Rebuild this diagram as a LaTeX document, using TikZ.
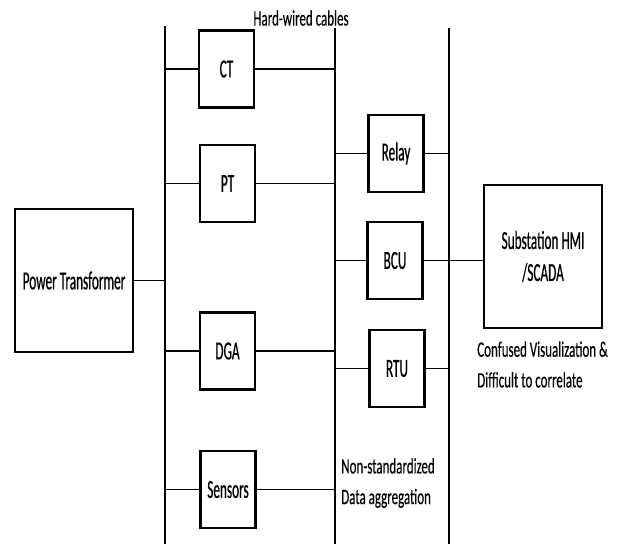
\documentclass[tikz,border=0pt]{standalone}
\usepackage{fontspec}
\newfontfamily\boxfont{Carlito}[FakeStretch=0.51, FakeBold=0.6]
\newfontfamily\notefont{Carlito}[FakeStretch=0.59, FakeBold=0.3]

\begin{document}
\begin{tikzpicture}[
    x=0.75pt, y=-0.75pt,
    unit/.style={draw, line width=1.8pt, inner sep=0pt, align=center,
        minimum width=41.5pt, minimum height=57.75pt,
        font=\boxfont\fontsize{19.5pt}{24pt}\selectfont},
    big/.style={unit, minimum width=88.5pt, minimum height=107pt},
    note/.style={inner sep=0pt, align=left,
        font=\notefont\fontsize{16.5pt}{23pt}\selectfont},
    wire/.style={line width=1.2pt},
    bus/.style={line width=1.1pt}
]

\useasboundingbox (0,0) rectangle (618,544);


\coordinate (cables top) at (165,26);
\coordinate (cables bot) at (165,544);
\coordinate (aggr top) at (335,28);
\coordinate (aggr bot) at (335,544);
\coordinate (scada top) at (449,28);
\coordinate (scada bot) at (449,544);

\draw[bus] (cables top) -- (cables bot);
\draw[bus] (aggr top) -- (aggr bot);
\draw[bus] (scada top) -- (scada bot);


\node[big] (trafo) at (74,280.5) {Power Transformer};

\node[unit] (ct) at (226.5,69) {CT};
\node[unit] (pt) at (227.5,183.5) {PT};
\node[unit] (dga) at (227.5,351) {DGA};
\node[unit] (sensors) at (228,489.5) {Sensors};

\node[unit] (relay) at (396,153.5) {Relay};
\node[unit] (bcu) at (395,260.5) {BCU};
\node[unit] (rtu) at (397,368.5) {RTU};

\node[big] (hmi) at (543,256.5) {Substation HMI\\/SCADA};


\draw[wire] (trafo.east) -- (trafo.east -| cables top);

\foreach \s in {ct,pt,dga,sensors}
    \draw[wire] (\s.west -| cables top) -- (\s.west)
        (\s.east) -- (\s.east -| aggr top);

\foreach \s in {relay,rtu}
    \draw[wire] (\s.west -| aggr top) -- (\s.west)
        (\s.east) -- (\s.east -| scada top);

\draw[wire] (bcu.west -| aggr top) -- (bcu.west)
    (bcu.east) -- (bcu.east -| hmi.west);


\node[note] (hardwired) at (301,18) {Hard-wired cables};
\node[note, anchor=west] (nonstd) at (341,483) {Non-standardized\\Data aggregation};
\node[note, anchor=west] (confused) at (477,364.5) {Confused Visualization \&\\Difficult to correlate};

\end{tikzpicture}
\end{document}
